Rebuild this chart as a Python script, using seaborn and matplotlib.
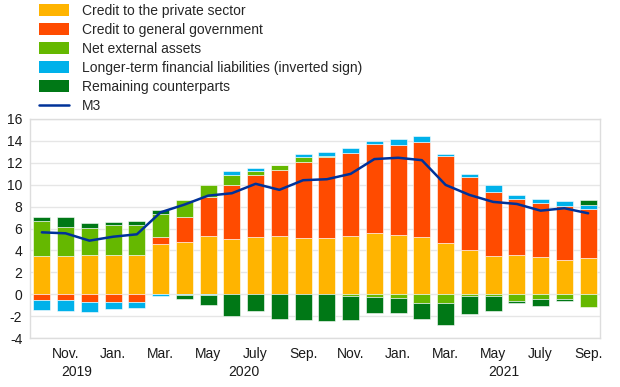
import numpy as np
import pandas as pd
import matplotlib
matplotlib.use("Agg")
import matplotlib.pyplot as plt
import seaborn as sns
from matplotlib.patches import Patch
from matplotlib.lines import Line2D

# monthly data, Oct 2019 - Sep 2021 (annual growth rates / contributions, p.p.)
months = pd.date_range("2019-10-01", "2021-09-01", freq="MS").strftime("%Y-%m").tolist()

private = [3.48, 3.48, 3.57, 3.57, 3.57, 4.55, 4.73, 5.28, 5.07, 5.25, 5.28, 5.16,
           5.13, 5.28, 5.62, 5.37, 5.25, 4.70, 4.00, 3.51, 3.54, 3.42, 3.15, 3.33]
government = [-0.49, -0.55, -0.67, -0.67, -0.70, 0.64, 2.32, 3.64, 4.91, 5.65, 6.05, 6.87,
              7.39, 7.61, 8.06, 8.28, 8.64, 7.94, 6.72, 5.86, 5.16, 4.95, 4.94, 4.46]
net_external = [3.21, 2.69, 2.51, 2.72, 2.78, 2.14, 1.56, 1.03, 0.89, 0.37, 0.43, 0.46,
                0.10, -0.15, -0.25, -0.37, -0.79, -0.79, -0.12, -0.21, -0.58, -0.40, -0.43, -1.16]
longer_term = [-0.91, -0.98, -0.92, -0.70, -0.52, -0.15, -0.04, -0.10, 0.37, 0.30, 0.02, 0.27,
               0.35, 0.45, 0.30, 0.55, 0.52, 0.18, 0.24, 0.58, 0.34, 0.33, 0.46, 0.39]
remaining = [0.33, 0.91, 0.42, 0.34, 0.34, 0.33, -0.43, -0.88, -1.98, -1.53, -2.29, -2.38,
             -2.44, -2.17, -1.43, -1.34, -1.44, -2.05, -1.65, -1.32, -0.21, -0.67, -0.21, 0.43]
m3 = [5.65, 5.56, 4.89, 5.25, 5.47, 7.48, 8.18, 9.00, 9.22, 10.08, 9.53, 10.41,
      10.50, 10.99, 12.34, 12.46, 12.24, 9.98, 9.07, 8.43, 8.24, 7.63, 7.85, 7.39]

month_ticks = ["Nov.", "Jan.", "Mar.", "May", "July", "Sep.",
               "Nov.", "Jan.", "Mar.", "May", "July", "Sep."]
years = ["2019", "2020", "2021"]

labels = ["Credit to the private sector", "Credit to general government",
          "Net external assets", "Longer-term financial liabilities (inverted sign)",
          "Remaining counterparts"]
colors = ["#FFB400", "#FF4B00", "#65B800", "#00B1EA", "#007816"]
m3_color = "#003299"

sns.set_theme(style="white")
plt.rcParams["font.family"] = ["Liberation Sans", "DejaVu Sans"]
plt.rcParams["font.size"] = 10

fig = plt.figure(figsize=(6.2, 3.87), dpi=100)
ax = fig.add_axes([30 / 620, 49 / 387, 570 / 620, 219 / 387])

n = len(months)
pos_base = np.zeros(n)
neg_base = np.zeros(n)
for vals, color in zip([private, government, net_external, longer_term, remaining], colors):
    v = np.array(vals)
    bottom = np.where(v >= 0, pos_base, neg_base)
    sns.barplot(x=months, y=v, bottom=bottom, color=color, saturation=1, width=0.72,
                errorbar=None, edgecolor="white", linewidth=0.4, ax=ax, zorder=2)
    pos_base += np.clip(v, 0, None)
    neg_base += np.clip(v, None, 0)

sns.lineplot(x=np.arange(n), y=m3, color=m3_color, linewidth=1.8, ax=ax, zorder=3)

ax.set_xlim(-0.5, n - 0.5)
ax.set_ylim(-4, 16)
ax.set_yticks(np.arange(-4, 17, 2))
ax.set_yticklabels([str(t) for t in range(-4, 17, 2)])
ax.set_xticks(np.arange(1, n, 2))
ax.set_xticklabels(month_ticks)
ax.set_xlabel("")
ax.set_ylabel("")
ax.tick_params(axis="both", length=0, labelsize=10, colors="#1a1a1a")
ax.tick_params(axis="x", pad=6.5)
ax.tick_params(axis="y", pad=5.5)
ax.yaxis.grid(True, color="#e6e6e6", linewidth=1, zorder=0)
ax.set_axisbelow(True)
for sp in ax.spines.values():
    sp.set_color("#dddddd")
    sp.set_linewidth(1)

for yr, xpos in zip(years, [1.47, 8.5, 19.45]):
    ax.text(xpos, -0.122, yr, transform=ax.get_xaxis_transform(), ha="center", va="top",
            fontsize=10, color="#1a1a1a")

handles = [Patch(facecolor=c, edgecolor="none") for c in colors]
handles.append(Line2D([0], [0], color=m3_color, linewidth=1.8))
fig.legend(handles, labels + ["M3"], loc="upper left", bbox_to_anchor=(39 / 620, 1 - 4 / 387),
           frameon=False, fontsize=10, handlelength=2.16, handleheight=1.0,
           handletextpad=0.94, labelspacing=0.36, borderpad=0, borderaxespad=0)

fig.savefig("out.png", dpi=100)
